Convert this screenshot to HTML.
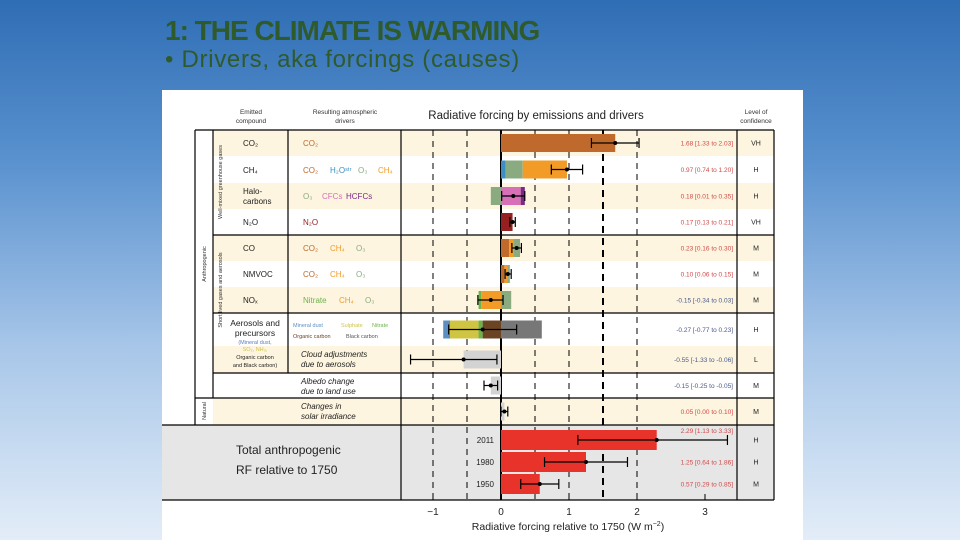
<!DOCTYPE html>
<html><head><meta charset="utf-8">
<style>
html,body{margin:0;padding:0}
body{width:960px;height:540px;overflow:hidden;background:linear-gradient(180deg,#2f6db4 0%,#5a92cf 30%,#a9c7e9 65%,#e3edf8 100%);font-family:"Liberation Sans",sans-serif;position:relative}
#title{position:absolute;left:165px;top:15px;font-family:"Liberation Sans",sans-serif;font-weight:bold;font-size:28px;color:#2f5a2c;letter-spacing:-1px;white-space:nowrap}
#sub{position:absolute;left:165px;top:46px;font-family:"Liberation Sans",sans-serif;font-size:24px;color:#2f5a2c;white-space:nowrap;letter-spacing:0.7px}
#panel{position:absolute;left:162px;top:90px;width:641px;height:450px;background:#fff}
svg{position:absolute;left:0;top:0}
</style></head><body>
<div id="title">1: THE CLIMATE IS WARMING</div>
<div id="sub">• Drivers, aka forcings (causes)</div>
<div id="panel"></div>
<svg id="chart" width="960" height="540" font-family="Liberation Sans, sans-serif"></svg>
<script>
const rowLabels=["CO2","CH4","Halocarbons","N2O","CO","NMVOC","NOx","Aerosols","Cloud","Albedo","Solar"];
const bestEst=[1.68,0.97,0.18,0.17,0.23,0.10,-0.15,-0.27,-0.55,-0.15,0.05];
const errLow=[1.33,0.74,0.01,0.13,0.16,0.06,-0.34,-0.77,-1.33,-0.25,0.00];
const errHigh=[2.03,1.20,0.35,0.21,0.30,0.15,0.03,0.23,-0.06,-0.05,0.10];
const segStart=[[0],[0,0.07,0.32],[-0.15,0,0.29],[0],[0,0.12,0.18],[0,0.05,0.09],[-0.33,-0.29,0],[-0.85,-0.75,-0.33,-0.27,0],[-0.55],[-0.15],[0]];
const segEnd=[[1.68],[0.07,0.32,0.97],[0,0.29,0.35],[0.17],[0.12,0.18,0.28],[0.05,0.09,0.13],[-0.29,0,0.15],[-0.75,-0.33,-0.27,0,0.6],[0],[0],[0.05]];
const segColor=[["#bf6a2c"],["#3b8fc4","#8aab80","#f29b26"],["#8aab80","#d870b8","#7b2a84"],["#962021"],["#bf6a2c","#f29b26","#8aab80"],["#bf6a2c","#f29b26","#8aab80"],["#6db34a","#f29b26","#8aab80"],["#5b8fc4","#cfc543","#6db34a","#6b4424","#777777"],["#d3d3d3"],["#d3d3d3"],["#d3d3d3"]];
const valueText=["1.68 [1.33 to 2.03]","0.97 [0.74 to 1.20]","0.18 [0.01 to 0.35]","0.17 [0.13 to 0.21]","0.23 [0.16 to 0.30]","0.10 [0.06 to 0.15]","-0.15 [-0.34 to 0.03]","-0.27 [-0.77 to 0.23]","-0.55 [-1.33 to -0.06]","-0.15 [-0.25 to -0.05]","0.05 [0.00 to 0.10]"];
const confidence=["VH","H","H","VH","M","M","M","H","L","M","M"];
const totalYears=["2011","1980","1950"];
const totalBest=[2.29,1.25,0.57];
const totalLow=[1.13,0.64,0.29];
const totalHigh=[3.33,1.86,0.85];
const totalText=["2.29 [1.13 to 3.33]","1.25 [0.64 to 1.86]","0.57 [0.29 to 0.85]"];
const totalConf=["H","H","M"];
const xTicks=[-1,0,1,2,3];
const dashLines=[-1,-0.5,0.5,1,1.5,2];

const NS="http://www.w3.org/2000/svg";
const svg=document.getElementById('chart');
const X=v=>501+68*v;
const rowTop=[130,156,183,209,235,261,287,313,346,373,398,425];
const rowY=i=>(rowTop[i]+rowTop[i+1])/2;
function el(tag,attrs,parent){const e=document.createElementNS(NS,tag);for(const k in attrs)e.setAttribute(k,attrs[k]);(parent||svg).appendChild(e);return e;}
function txt(x,y,s,attrs){const t=el('text',Object.assign({x:x,y:y},attrs||{}));t.textContent=s;return t;}

for(let i=0;i<11;i++){
  const r=el('rect',{x:213,y:rowTop[i],width:561,height:rowTop[i+1]-rowTop[i],fill:(i%2==0)?'#fdf5df':'#ffffff'});
  
  
}
el('rect',{x:195,y:130,width:18,height:295,fill:'#fff'});
const tb=el('rect',{x:162,y:425,width:612,height:75,fill:'#e6e6e6'});



dashLines.forEach(v=>{
  const l=el('line',{x1:X(v),x2:X(v),y1:130,y2:500,stroke:'#000','stroke-width':v==1.5?2:1,'stroke-dasharray':v==1.5?'7,5':'6,5'});
  
  
});
el('line',{x1:X(0),x2:X(0),y1:130,y2:500,stroke:'#000','stroke-width':2});

const lines=[[195,130,774,130],[213,235,774,235],[213,313,774,313],[213,373,774,373],[195,398,774,398],[162,425,774,425],[162,500,774,500],[195,130,195,425],[213,130,213,398],[288,130,288,373],[401,130,401,500],[737,130,737,500],[774,130,774,500]];
lines.forEach(a=>el('line',{x1:a[0],y1:a[1],x2:a[2],y2:a[3],stroke:'#000','stroke-width':1.2}));

for(let i=0;i<11;i++){
  const y=rowY(i);
  for(let j=0;j<segStart[i].length;j++){
    const a=X(segStart[i][j]),b=X(segEnd[i][j]);
    const r=el('rect',{x:Math.min(a,b),y:y-9,width:Math.abs(b-a),height:18,fill:segColor[i][j]});
    
    
  }
  const e=el('g',{stroke:'#000','stroke-width':1.2});
  
  
  el('line',{x1:X(errLow[i]),x2:X(errHigh[i]),y1:y,y2:y},e);
  el('line',{x1:X(errLow[i]),x2:X(errLow[i]),y1:y-5,y2:y+5},e);
  el('line',{x1:X(errHigh[i]),x2:X(errHigh[i]),y1:y-5,y2:y+5},e);
  el('circle',{cx:X(bestEst[i]),cy:y,r:2,fill:'#000'});
  const vt=txt(733,y+2.5,valueText[i],{'font-size':6.5,'text-anchor':'end',fill:bestEst[i]<0?'#4a5a8a':'#d04a4a'});
  
  
  const ct=txt(756,y+2.5,confidence[i],{'font-size':7,'text-anchor':'middle',fill:'#222'});
  
  
}
const tY=[440,462,484];
for(let i=0;i<3;i++){
  const y=tY[i];
  const r=el('rect',{x:X(0),y:y-10,width:X(totalBest[i])-X(0),height:20,fill:'#e8332a'});
  
  
  const e=el('g',{stroke:'#000','stroke-width':1.2});
  
  
  el('line',{x1:X(totalLow[i]),x2:X(totalHigh[i]),y1:y,y2:y},e);
  el('line',{x1:X(totalLow[i]),x2:X(totalLow[i]),y1:y-5,y2:y+5},e);
  el('line',{x1:X(totalHigh[i]),x2:X(totalHigh[i]),y1:y-5,y2:y+5},e);
  el('circle',{cx:X(totalBest[i]),cy:y,r:2,fill:'#000'});
  txt(494,y+3,totalYears[i],{'font-size':8,'text-anchor':'end',fill:'#222'});
  txt(733,i==0?y-7:y+2.5,totalText[i],{'font-size':6.5,'text-anchor':'end',fill:'#d04a4a'});
  txt(756,y+2.5,totalConf[i],{'font-size':7,'text-anchor':'middle',fill:'#222'});
}
xTicks.forEach(v=>{
  el('line',{x1:X(v),x2:X(v),y1:494,y2:500,stroke:'#000'});
  const t=txt(X(v),515,v<0?'\u2212'+Math.abs(v):String(v),{'font-size':10,'text-anchor':'middle',fill:'#222'});
  
  
});
</script>
<svg width="960" height="540" style="pointer-events:none" font-family="Liberation Sans, sans-serif">
<text x="568" y="530" font-size="10.5" text-anchor="middle" fill="#222">Radiative forcing relative to 1750 (W m<tspan font-size="7" dy="-4">−2</tspan><tspan dy="4">)</tspan></text>
<text x="536" y="119" font-size="11.5" text-anchor="middle" fill="#222">Radiative forcing by emissions and drivers</text>
<text x="251" y="114" font-size="6.5" text-anchor="middle" fill="#333">Emitted</text>
<text x="251" y="123" font-size="6.5" text-anchor="middle" fill="#333">compound</text>
<text x="345" y="114" font-size="6.5" text-anchor="middle" fill="#333">Resulting atmospheric</text>
<text x="345" y="123" font-size="6.5" text-anchor="middle" fill="#333">drivers</text>
<text x="756" y="114" font-size="6.5" text-anchor="middle" fill="#333">Level of</text>
<text x="756" y="123" font-size="6.5" text-anchor="middle" fill="#333">confidence</text>
<g font-size="5.5" fill="#333">
<text transform="translate(222,182) rotate(-90)" text-anchor="middle">Well-mixed greenhouse gases</text>
<text transform="translate(222,290) rotate(-90)" text-anchor="middle">Short lived gases and aerosols</text>
<text transform="translate(206,264) rotate(-90)" text-anchor="middle">Anthropogenic</text>
<text transform="translate(206,411) rotate(-90)" text-anchor="middle">Natural</text>
</g>
<g font-size="8" fill="#222">
<text x="243" y="146">CO₂</text><text x="243" y="173">CH₄</text>
<text x="243" y="194">Halo-</text><text x="243" y="204">carbons</text>
<text x="243" y="225">N₂O</text><text x="243" y="251">CO</text>
<text x="243" y="277">NMVOC</text><text x="243" y="303">NOₓ</text>
<text x="255" y="326" text-anchor="middle" font-size="8.5">Aerosols and</text>
<text x="255" y="336" text-anchor="middle" font-size="8.5">precursors</text>
<g font-size="5.5" text-anchor="middle"><text x="255" y="344" fill="#5b7fc4">(Mineral dust,</text>
<text x="255" y="351" fill="#cfc543">SO₂, NH₃,</text><text x="255" y="359">Organic carbon</text><text x="255" y="367">and Black carbon)</text></g>
</g>
<g font-size="8">
<text x="303" y="146" fill="#bf6a2c">CO₂</text>
<text x="303" y="173" fill="#bf6a2c">CO₂</text><text x="330" y="173" fill="#3b8fc4">H₂Oˢᵗʳ</text><text x="358" y="173" fill="#8aab80">O₃</text><text x="378" y="173" fill="#f29b26">CH₄</text>
<text x="303" y="199" fill="#8aab80">O₃</text><text x="322" y="199" fill="#d870b8">CFCs</text><text x="346" y="199" fill="#7b2a84">HCFCs</text>
<text x="303" y="225" fill="#962021">N₂O</text>
<text x="303" y="251" fill="#bf6a2c">CO₂</text><text x="330" y="251" fill="#f29b26">CH₄</text><text x="356" y="251" fill="#8aab80">O₃</text>
<text x="303" y="277" fill="#bf6a2c">CO₂</text><text x="330" y="277" fill="#f29b26">CH₄</text><text x="356" y="277" fill="#8aab80">O₃</text>
<text x="303" y="303" fill="#6db34a">Nitrate</text><text x="339" y="303" fill="#f29b26">CH₄</text><text x="365" y="303" fill="#8aab80">O₃</text>
<text x="293" y="327" font-size="5.5" fill="#5b8fc4">Mineral dust</text><text x="341" y="327" font-size="5.5" fill="#cfc543">Sulphate</text><text x="372" y="327" font-size="5.5" fill="#6db34a">Nitrate</text>
<text x="293" y="338" font-size="5.5" fill="#6b4424">Organic carbon</text><text x="346" y="338" font-size="5.5" fill="#555">Black carbon</text>
<g font-style="italic" fill="#222"><text x="301" y="357">Cloud adjustments</text><text x="301" y="367">due to aerosols</text>
<text x="301" y="384">Albedo change</text><text x="301" y="394">due to land use</text>
<text x="301" y="409">Changes in</text><text x="301" y="419">solar irradiance</text></g>
</g>
<text x="236" y="454" font-size="12" fill="#222">Total anthropogenic</text>
<text x="236" y="474" font-size="12" fill="#222">RF relative to 1750</text>
</svg>
</body></html>
